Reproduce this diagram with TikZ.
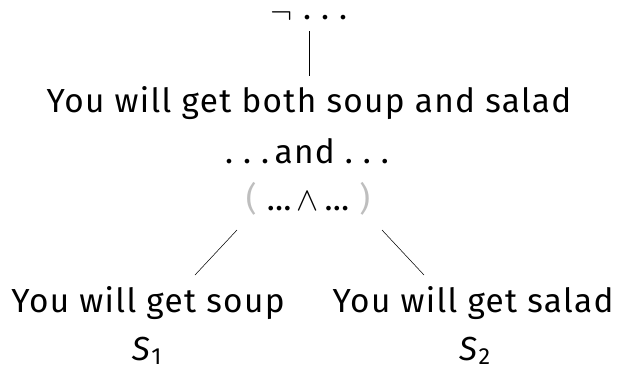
\documentclass[tikz,border=0pt]{standalone}
\usepackage{fontspec}
\setmainfont{Fira Sans}[LetterSpace=4]
\usepackage{xcolor}
\definecolor{parengray}{RGB}{190,190,190}
\newcommand\spdots{.\kern0.3em.\kern0.3em.}

\begin{document}
\begin{tikzpicture}[x=0.75pt,y=0.75pt,yscale=-1,xscale=1]
\tikzset{txt/.style={anchor=base,inner sep=0pt,font=\fontsize{25}{29}\selectfont}}
\useasboundingbox (0,0) rectangle (619,371);

\node[txt] (neg) at (309,19) {\raisebox{-3.5pt}{$\neg$}\hspace{0.3em}\spdots};
\node[txt] (both) at (309,112) {You will get both soup and salad};
\node[txt] (andtxt) at (307,163) {\spdots\,and \spdots};
\node[txt] (conj) at (308,210) {{\color{parengray}(} …\,$\wedge$\,… {\color{parengray})}};
\node[txt] (soup) at (148,312) {You will get soup};
\node[txt] (salad) at (473,312) {You will get salad};
\node[txt] (sone) at (147,360) {\textit{S}\textsubscript{1}};
\node[txt] (stwo) at (475,360) {\textit{S}\textsubscript{2}};

\coordinate (cl) at (237,230);
\coordinate (cr) at (382,230);
\coordinate (sl) at (195,275);
\coordinate (sr) at (424,275);

\draw (309,31) -- (309,76);
\draw (cl) -- (sl);
\draw (cr) -- (sr);

\end{tikzpicture}
\end{document}
